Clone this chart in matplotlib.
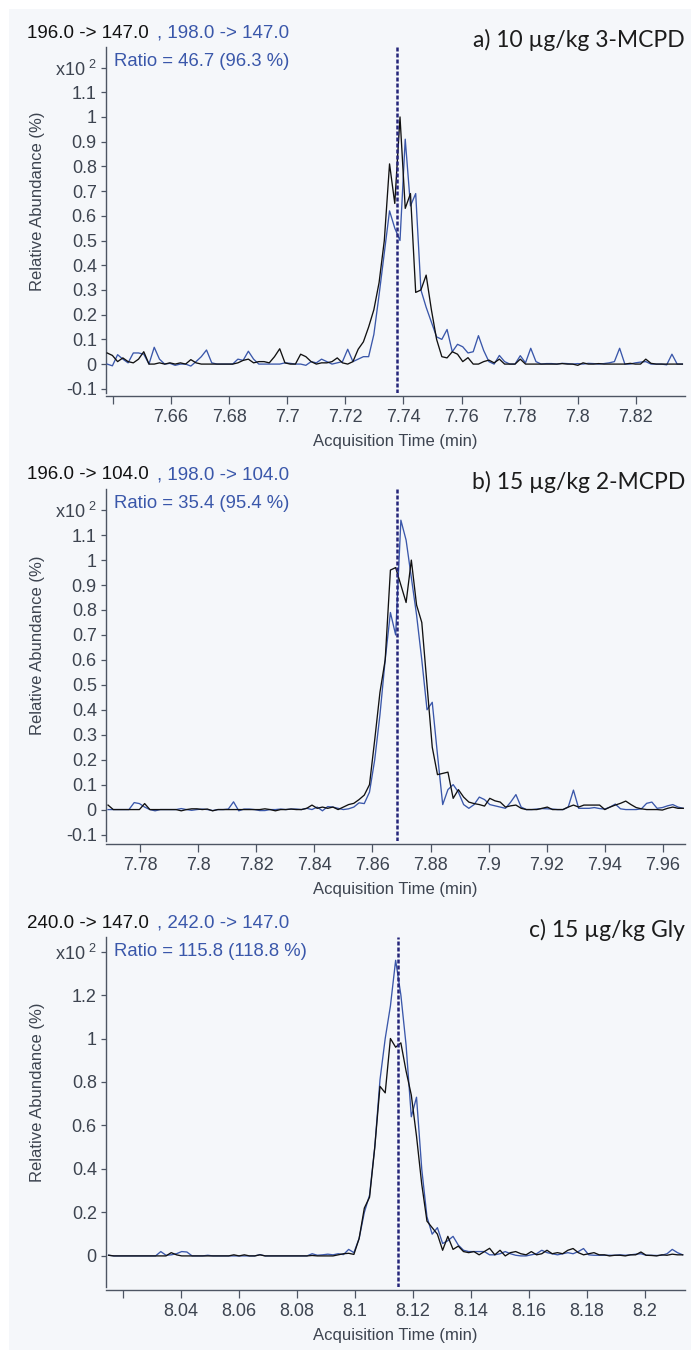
import numpy as np
import matplotlib
matplotlib.use("Agg")
import matplotlib.pyplot as plt
from matplotlib.patches import Rectangle

plt.rcParams['font.family'] = ['Liberation Sans', 'DejaVu Sans']
plt.rcParams['mathtext.default'] = 'regular'

# --- datos de los cromatogramas (unidades x10^2 %) ---
scan_step = 0.0018
scan_start = [7.638, 7.769, 8.015]

# a) 3-MCPD, 196.0 -> 147.0 (negro) y 198.0 -> 147.0 (azul)
a_quant = [0.045, 0.035, 0.01, 0.025, 0.01, 0.005, 0.02, 0.05, 0, 0,
           0.005, 0, 0.005, 0, 0.005, 0, 0.018, 0.005, 0, 0,
           0, 0, 0, 0, 0, 0.005, 0.015, 0.02, 0.005, 0.01,
           0.01, 0.005, 0.03, 0.062, 0.005, 0, 0, 0.04, 0.03, 0.01,
           0, 0.005, 0.005, 0.01, 0.025, 0.005, 0, 0.01, 0.06, 0.09,
           0.15, 0.22, 0.33, 0.5, 0.81, 0.65, 1.0, 0.63, 0.69, 0.29,
           0.30, 0.36, 0.22, 0.10, 0.03, 0.025, 0.05, 0.04, 0.01, 0.026,
           0, 0, 0.01, 0.016, 0.005, 0.02, 0, 0, 0, 0.02,
           0, 0, 0, 0, 0, 0, 0, 0.002, 0, 0,
           -0.005, 0.005, 0, 0, 0.002, 0, 0, 0, 0, 0,
           0.003, 0, 0, 0.02, 0.003, 0, 0, 0, 0, 0, 0]
a_qual = [0, -0.007, 0.038, 0.02, 0.005, 0.045, 0.045, 0.04, 0, 0.068,
          0.02, 0, 0.003, -0.005, 0, 0, -0.008, 0.01, 0.03, 0.057,
          0.005, 0, 0, 0, 0, 0.02, 0.015, 0.052, 0.02, 0,
          0, 0, 0, 0, 0.005, 0.003, 0, 0, -0.005, 0.01,
          0.005, 0.02, 0.01, 0, 0.005, 0.01, 0.06, 0.01, 0.02, 0.03,
          0.03, 0.12, 0.28, 0.45, 0.62, 0.55, 0.50, 0.91, 0.64, 0.69,
          0.30, 0.23, 0.17, 0.11, 0.10, 0.14, 0.05, 0.08, 0.07, 0.045,
          0.05, 0.115, 0.055, 0.01, 0, 0.035, 0.01, 0, 0, 0.034,
          0.005, 0.064, 0.01, 0, 0.002, 0.002, 0, 0.003, 0.002, 0,
          0.002, 0, 0.003, 0.002, 0, 0.002, 0.005, 0.01, 0.064, 0,
          0, 0.005, 0.008, 0.01, 0, 0, 0, -0.003, 0.04, 0, 0]

# b) 2-MCPD, 196.0 -> 104.0 (negro) y 198.0 -> 104.0 (azul)
b_quant = [0.018, 0, 0, 0, 0, 0, 0, 0.024, 0, 0,
           0, 0, 0, 0, -0.005, 0, 0.003, 0.003, 0, 0.002,
           -0.005, 0, 0, 0, 0, 0, 0, 0, 0, 0,
           0.003, 0, -0.005, 0, 0, 0.002, 0, 0, 0.005, 0.018,
           0.005, 0.01, 0.005, 0.01, 0, 0.01, 0.02, 0.025, 0.04, 0.058,
           0.1, 0.28, 0.47, 0.6, 0.96, 0.97, 0.9, 0.83, 1.0, 0.82,
           0.75, 0.5, 0.25, 0.14, 0.145, 0.15, 0.045, 0.08, 0.05, 0.03,
           0.024, 0.02, 0.014, 0.045, 0.035, 0.03, 0.01, 0.015, 0.018, 0.005,
           0, 0, 0, 0.005, 0.01, 0, 0, 0, 0.01, 0.018,
           0.01, 0.018, 0.018, 0.018, 0.018, 0, 0.01, 0.018, 0.025, 0.034,
           0.02, 0.008, 0.003, 0, 0, 0, -0.002, 0.005, 0.01, 0.005, 0.005]
b_qual = [0, 0, 0, 0, 0, 0.028, 0.024, 0.01, 0, -0.005,
          0, 0, 0, 0, 0.004, 0, -0.003, 0, 0.002, 0,
          -0.004, 0, 0, 0.002, 0.031, -0.005, 0.002, 0.002, 0, -0.004,
          -0.004, 0, 0, 0.002, 0, 0.002, 0.002, 0, 0.005, 0,
          0.01, -0.005, 0.012, 0.01, 0.005, 0, 0.003, 0.01, 0.027, 0.024,
          0.07, 0.2, 0.38, 0.6, 0.79, 0.70, 1.16, 1.08, 0.93, 0.78,
          0.6, 0.40, 0.43, 0.22, 0.02, 0.08, 0.1, 0.07, 0.02, 0.005,
          0.02, 0.05, 0.04, 0.02, 0.015, 0.01, 0.005, 0.03, 0.06, 0.01,
          0, 0, 0.002, 0.004, 0.003, 0.002, 0, 0, 0.01, 0.078,
          0.005, 0.005, 0.005, 0.008, 0.004, 0.002, 0.01, 0.022, 0.003, 0,
          0, 0, 0.003, 0.025, 0.03, 0.005, 0.008, 0.015, 0.02, 0.01, 0.005]

# c) Gly, 240.0 -> 147.0 (negro) y 242.0 -> 147.0 (azul)
c_quant = [0.003, 0, 0, 0, 0, 0, 0, 0, 0, 0,
           0, 0, 0.015, 0.005, 0, 0, 0, 0, 0, 0,
           0, 0, 0, 0, 0.005, 0, 0.005, 0, 0, 0.005,
           0, 0, 0, 0, 0, 0, 0, 0, 0, 0.002,
           0, 0, 0, 0, 0.005, 0.01, 0.012, 0.007, 0.08, 0.22,
           0.27, 0.5, 0.78, 0.75, 1.0, 0.96, 0.98, 0.85, 0.74, 0.55,
           0.33, 0.16, 0.13, 0.1, 0.026, 0.09, 0.03, 0.045, 0.02, 0.015,
           0.02, 0.005, 0.02, 0.035, 0.005, 0.026, 0, 0.015, 0.02, 0.01,
           0.005, 0.02, 0.005, 0.01, 0.026, 0.01, 0.015, 0.01, 0.026, 0.034,
           0.015, 0.005, 0.01, 0.015, 0.005, 0.005, 0, 0.003, 0.003, 0,
           0.005, 0.005, 0.018, 0.003, 0.002, 0, 0.005, 0.003, 0.008, 0.005, 0.005]
c_qual = [0.003, 0, 0, 0, 0, 0, 0, 0, 0, 0,
          0.02, 0.003, 0.005, 0.01, 0.02, 0.018, 0, 0, 0, 0.003,
          0, 0, 0, 0, 0, 0, 0, 0, 0, 0.006,
          0, 0, 0, 0, 0, 0, 0, 0, 0, 0.01,
          0.003, 0.005, 0.008, 0.005, 0.01, 0.006, 0.03, 0.015, 0.08, 0.2,
          0.28, 0.5, 0.81, 1.0, 1.15, 1.36, 1.2, 0.97, 0.64, 0.73,
          0.4, 0.18, 0.1, 0.13, 0.057, 0.07, 0.09, 0.05, 0.026, 0.02,
          0.02, 0.02, 0.02, 0.005, 0.005, 0.01, 0.02, 0.01, 0.003, 0,
          0, 0.005, 0.01, 0.026, 0.015, 0.01, 0.005, 0.01, 0.015, 0.01,
          0.02, 0.034, 0.005, 0.003, 0.003, 0.003, 0.003, 0.003, 0.005, 0.003,
          0.005, 0.008, 0.01, 0.003, 0.003, 0.002, 0.003, 0.01, 0.03, 0.015, 0.005]

rt_marca = [7.7378, 7.8685, 8.1147]
mz_quant = ["196.0 -> 147.0", "196.0 -> 104.0", "240.0 -> 147.0"]
mz_qual = [", 198.0 -> 147.0", ", 198.0 -> 104.0", ", 242.0 -> 147.0"]
ratios = ["Ratio = 46.7 (96.3 %)", "Ratio = 35.4 (95.4 %)", "Ratio = 115.8 (118.8 %)"]
titulos = ["a) 10 µg/kg 3-MCPD", "b) 15 µg/kg 2-MCPD", "c) 15 µg/kg Gly"]

xlims = [(7.6376, 7.8369), (7.7683, 7.9676), (8.0141, 8.2138)]
ylims = [(-0.117, 1.283), (-0.126, 1.285), (-0.143, 1.467)]
xticks = [[7.64, 7.66, 7.68, 7.70, 7.72, 7.74, 7.76, 7.78, 7.80, 7.82],
          [7.78, 7.80, 7.82, 7.84, 7.86, 7.88, 7.90, 7.92, 7.94, 7.96],
          [8.02, 8.04, 8.06, 8.08, 8.10, 8.12, 8.14, 8.16, 8.18, 8.20]]
xtick_ocultos = [[7.64], [], [8.02]]
yticks = [[-0.1, 0, 0.1, 0.2, 0.3, 0.4, 0.5, 0.6, 0.7, 0.8, 0.9, 1.0, 1.1, 1.2],
          [-0.1, 0, 0.1, 0.2, 0.3, 0.4, 0.5, 0.6, 0.7, 0.8, 0.9, 1.0, 1.1, 1.2],
          [0, 0.2, 0.4, 0.6, 0.8, 1.0, 1.2, 1.4]]

series = [(a_quant, a_qual), (b_quant, b_qual), (c_quant, c_qual)]

# --- colores ---
NEGRO = '#111111'
AZUL = '#3a57aa'
MARCA = '#25257a'
GRIS_TXT = '#3d4450'
EJE = '#4d5563'
FONDO = '#f5f7fa'

W, H = 691, 1357
fig = plt.figure(figsize=(W / 100, H / 100), dpi=100)
fig.patch.set_facecolor('white')


def fx(px):
    return px / W


def fy(py):
    return 1 - py / H


# fondo gris claro del informe (detrás de los ejes)
fig.patches.append(Rectangle((fx(9), fy(1350)), fx(691) - fx(9), fy(9) - fy(1350),
                             transform=fig.transFigure, facecolor=FONDO,
                             edgecolor='none', zorder=-10))

tops = [47, 489, 937]
bottoms = [393, 841, 1287]
left_px, right_px = 106, 685

for k in range(3):
    top, bot = tops[k], bottoms[k]
    alto = bot - top
    ax = fig.add_axes([fx(left_px), fy(bot), fx(right_px) - fx(left_px), alto / H])
    ax.set_facecolor('none')

    quant, qual = series[k]
    rt = np.round(scan_start[k] + scan_step * np.arange(len(quant)), 4)
    ax.plot(rt, qual, color=AZUL, lw=0.95, zorder=3)
    ax.plot(rt, quant, color=NEGRO, lw=0.95, zorder=4)
    ax.axvline(rt_marca[k], color=MARCA, lw=1.8, ls=(0, (1.6, 0.8)), zorder=5)

    ax.set_xlim(*xlims[k])
    ax.set_ylim(*ylims[k])

    ax.set_xticks(xticks[k])
    ax.set_xticklabels(['' if v in xtick_ocultos[k] else f'{v:g}' for v in xticks[k]])
    ax.set_yticks(yticks[k])
    ax.set_yticklabels([f'{v:g}' for v in yticks[k][:-1]] + ['x10$^{\\ 2}$'])

    for lado in ['top', 'right']:
        ax.spines[lado].set_visible(False)
    for lado in ['left', 'bottom']:
        ax.spines[lado].set_color(EJE)
        ax.spines[lado].set_linewidth(1.0)
    ax.spines['bottom'].set_position(('outward', 2))

    ax.tick_params(axis='y', direction='out', length=3.6, width=0.9, color=EJE,
                   labelsize=13, labelcolor=GRIS_TXT, pad=3)
    ax.tick_params(axis='x', direction='out', length=5.8, width=0.9, color=EJE,
                   labelsize=13, labelcolor=GRIS_TXT, pad=3.5)

    ax.set_xlabel('Acquisition Time (min)', fontsize=12, color=GRIS_TXT)
    ax.xaxis.set_label_coords(0.5, -41 / alto)
    ax.set_ylabel('Relative Abundance (%)', fontsize=12, color=GRIS_TXT)
    ax.yaxis.set_label_coords((38 - left_px) / (right_px - left_px), 0.555)
    ax.yaxis.label.set_verticalalignment('center')

    # transiciones, ratio y título de cada panel
    fig.text(fx(27), fy(top - 14), mz_quant[k], fontsize=13.5, color=NEGRO, va='center')
    fig.text(fx(157), fy(top - 14), mz_qual[k], fontsize=13.5, color=AZUL, va='center')
    fig.text(fx(114), fy(top + 15), ratios[k], fontsize=13.3, color=AZUL, va='center')
    fig.text(fx(685), fy(top - 7), titulos[k], fontsize=16.5, color='#1c1c1c',
             family=['Lato', 'DejaVu Sans'], ha='right', va='center')

fig.savefig('out.png', dpi=100, facecolor=fig.get_facecolor())
